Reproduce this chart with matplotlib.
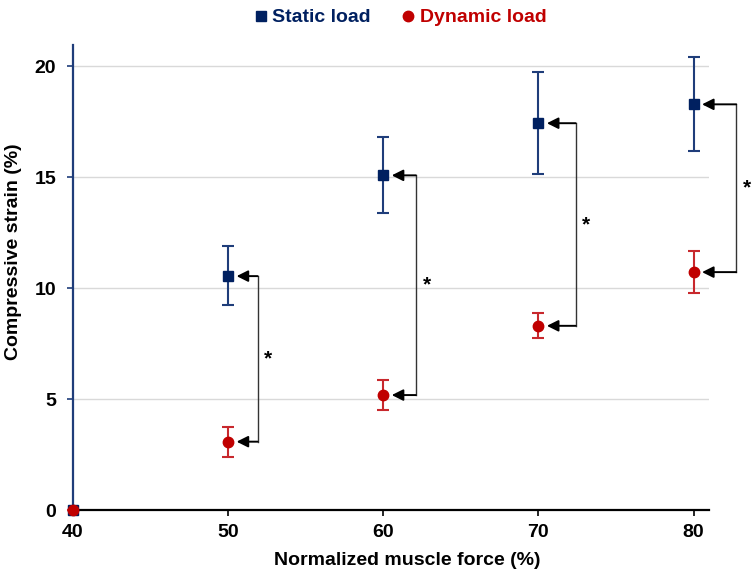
import numpy as np
import matplotlib
matplotlib.use('Agg')
import matplotlib.pyplot as plt

plt.rcParams['font.family'] = ['Liberation Sans', 'DejaVu Sans']
plt.rcParams['font.weight'] = 'bold'

force = [40, 50, 60, 70, 80]
static_mean = [0, 10.54, 15.08, 17.43, 18.28]
static_lo = [0, 9.23, 13.4, 15.12, 16.18]
static_hi = [0, 11.9, 16.8, 19.75, 20.42]
dynamic_mean = [0, 3.08, 5.18, 8.3, 10.72]
dynamic_lo = [0, 2.4, 4.5, 7.76, 9.79]
dynamic_hi = [0, 3.75, 5.87, 8.86, 11.65]
# x position of the significance brackets (one per compared force level)
bracket_x = [51.9, 62.1, 72.4, 82.75]

navy = '#002060'
navy_err = '#1F3D7A'
red = '#C00000'
red_err = '#C8282D'

fig = plt.figure(figsize=(7.53, 5.78), dpi=100)
ax = fig.add_axes([0.0969, 0.1176, 0.8447, 0.8044])

s_mean = np.array(static_mean)
d_mean = np.array(dynamic_mean)
s_err = [s_mean - np.array(static_lo), np.array(static_hi) - s_mean]
d_err = [d_mean - np.array(dynamic_lo), np.array(dynamic_hi) - d_mean]

ax.errorbar(force, s_mean, yerr=s_err, fmt='s', color=navy, ecolor=navy_err,
            elinewidth=1.5, capsize=4, capthick=1.5, markersize=7.5,
            label='Static load', clip_on=False, zorder=3)
ax.errorbar(force, d_mean, yerr=d_err, fmt='o', color=red, ecolor=red_err,
            elinewidth=1.5, capsize=4, capthick=1.5, markersize=7.5,
            label='Dynamic load', clip_on=False, zorder=4)

# significance brackets
for i in range(1, len(force)):
    bx = bracket_x[i-1]
    top = static_mean[i]
    bot = dynamic_mean[i]
    ax.plot([bx, bx], [bot, top], color='#333333', lw=1.0, clip_on=False, zorder=2)
    for yv in (top, bot):
        ax.annotate('', xy=(force[i] + 0.55, yv), xytext=(bx, yv),
                    arrowprops=dict(arrowstyle='-|>', color='black', lw=1.4,
                                    mutation_scale=17, shrinkA=0, shrinkB=0),
                    annotation_clip=False)
    ax.text(bx + 0.7, (top + bot) / 2, '*', fontsize=15, fontweight='bold',
            ha='center', va='center')

ax.set_xlim(40, 81)
ax.set_ylim(0, 20.95)
ax.set_xticks([40, 50, 60, 70, 80])
ax.set_yticks([0, 5, 10, 15, 20])
ax.tick_params(axis='both', labelsize=14, direction='out', length=4, width=1.2)
ax.tick_params(axis='y', color=navy_err, pad=8)
ax.tick_params(axis='x', pad=6)
for lab in ax.get_xticklabels() + ax.get_yticklabels():
    lab.set_fontweight('bold')

ax.grid(axis='y', color='#D9D9D9', lw=1)
ax.set_axisbelow(True)
ax.spines['top'].set_visible(False)
ax.spines['right'].set_visible(False)
ax.spines['left'].set_color(navy_err)
ax.spines['left'].set_linewidth(1.6)
ax.spines['bottom'].set_color('black')
ax.spines['bottom'].set_linewidth(1.6)

ax.set_xlabel('Normalized muscle force (%)', fontsize=14, fontweight='bold', va='center')
ax.set_ylabel('Compressive strain (%)', fontsize=14, fontweight='bold', va='center')
ax.xaxis.set_label_coords(0.525, -0.108)
ax.yaxis.set_label_coords(-0.094, 0.555)

h, l = ax.get_legend_handles_labels()
h = [hh[0] for hh in h]
leg = fig.legend(h, l, loc='upper center', bbox_to_anchor=(0.532, 1.015), ncol=2,
                 frameon=False, handlelength=0.6, handletextpad=0.3,
                 columnspacing=1.6, prop={'weight': 'bold', 'size': 14})
for txt, c in zip(leg.get_texts(), [navy, red]):
    txt.set_color(c)

fig.savefig('out.png', dpi=100)
